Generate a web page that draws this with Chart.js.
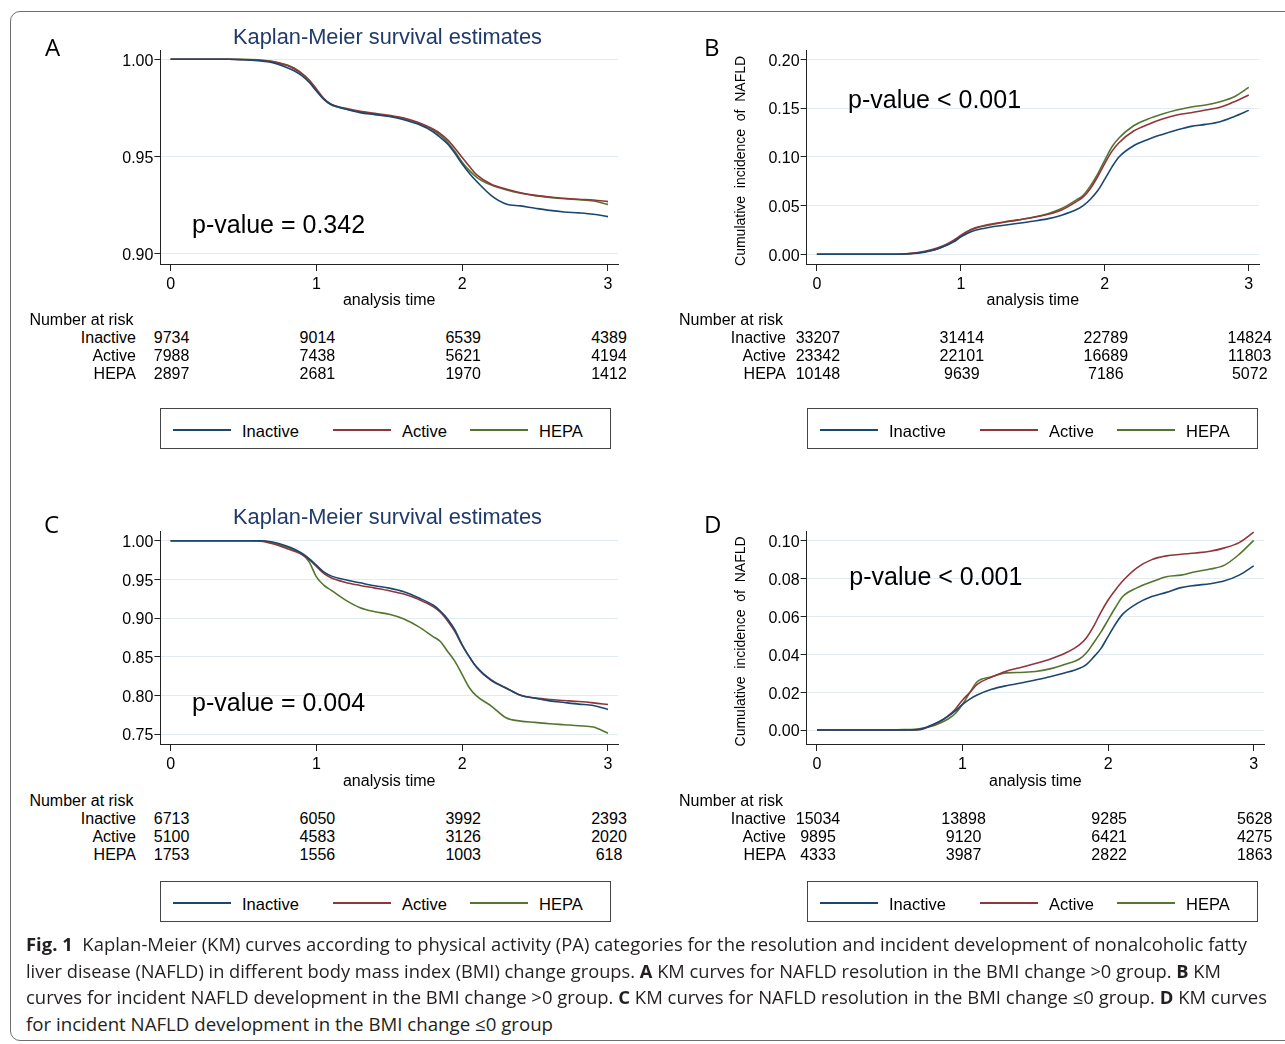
<!DOCTYPE html>
<html>
<head>
<meta charset="utf-8">
<script src="https://cdn.jsdelivr.net/npm/chart.js@4.4.1/dist/chart.umd.min.js"></script>
<style>
  html, body { margin: 0; padding: 0; background: #fff; }
  body { width: 1285px; height: 1044px; position: relative; overflow: hidden;
         font-family: "Liberation Sans", Arial, sans-serif; color: #000; }
  .frame { position: absolute; left: 10px; top: 11px; width: 1330px; height: 1030px;
           border: 1.5px solid #6e6e6e; border-radius: 10px; box-sizing: border-box; }
  .panel { position: absolute; width: 645px; height: 480px; }
  .panel canvas { position: absolute; left: 0; top: 0; }
  .abs { position: absolute; white-space: nowrap; }
  .letter { font: 24px/24px "Open Sans", sans-serif; }
  .kmtitle { font-size: 21.8px; line-height: 21.8px; color: #1f3a6b; text-align: center; }
  .pval { font-size: 25px; line-height: 25px; }
  .risk { font-size: 16px; line-height: 16px; }
  .legend { border: 1px solid #444; box-sizing: border-box; }
  .legline { position: absolute; height: 1.6px; }
  .legtext { font-size: 16.5px; line-height: 16.5px; }
  .cap { font: 18px/18px "Open Sans", sans-serif; color: #231f20; transform-origin: 0 0; }
</style>
</head>
<body>
<div class="frame"></div>
<div id="root"></div>
<div id="caption"></div>

<script>
// time points (years)
const times = [0, 0.4, 0.5, 0.6, 0.7, 0.8, 0.85, 0.9, 0.95, 1.0, 1.05, 1.1, 1.2, 1.3, 1.4, 1.5, 1.6, 1.7,
               1.8, 1.85, 1.9, 1.95, 2.0, 2.05, 2.1, 2.2, 2.3, 2.4, 2.5, 2.6, 2.7, 2.8, 2.9, 3.0];

const groups = ['Inactive', 'Active', 'HEPA'];
const groupColors = ['#1a476f', '#90353b', '#55752f'];

// A - NAFLD resolution, BMI change > 0 (survival)
const aInactive = [1.0, 1.0, 0.9998, 0.9993, 0.9983, 0.9957, 0.9940, 0.9916, 0.9882, 0.9837,
  0.9795, 0.9769, 0.9745, 0.9726, 0.9716, 0.9706, 0.9690, 0.9666, 0.9628, 0.9599,
  0.9565, 0.9517, 0.9462, 0.9414, 0.9372, 0.9300, 0.9257, 0.9247, 0.9235, 0.9224,
  0.9216, 0.9211, 0.9204, 0.9192];
const aActive = [1.0, 1.0, 0.9998, 0.9995, 0.9988, 0.9968, 0.9950, 0.9926, 0.9894, 0.9848,
  0.9800, 0.9769, 0.9748, 0.9733, 0.9723, 0.9712, 0.9699, 0.9676, 0.9642, 0.9618,
  0.9586, 0.9543, 0.9495, 0.9449, 0.9406, 0.9358, 0.9334, 0.9315, 0.9301, 0.9293,
  0.9286, 0.9281, 0.9277, 0.9269];
const aHepa = [1.0, 1.0, 1.0, 0.9997, 0.9988, 0.9971, 0.9954, 0.9928, 0.9892, 0.9842,
  0.9795, 0.9766, 0.9745, 0.9730, 0.9719, 0.9709, 0.9695, 0.9671, 0.9637, 0.9611,
  0.9574, 0.9526, 0.9471, 0.9428, 0.9394, 0.9354, 0.9330, 0.9312, 0.9300, 0.9291,
  0.9284, 0.9279, 0.9272, 0.9255];

// B - incident NAFLD, BMI change > 0 (cumulative incidence)
const bInactive = [0, 0, 0, 0.0003, 0.0010, 0.0038, 0.0062, 0.0092, 0.0127, 0.0178,
  0.0219, 0.0247, 0.0277, 0.0298, 0.0318, 0.0339, 0.0363, 0.0401, 0.0456, 0.0500,
  0.0565, 0.0651, 0.0771, 0.0897, 0.1000, 0.1113, 0.1178, 0.1229, 0.1274, 0.1312,
  0.1332, 0.1360, 0.1414, 0.1476];
const bActive = [0, 0, 0, 0.0003, 0.0017, 0.0048, 0.0072, 0.0103, 0.0144, 0.0195,
  0.0240, 0.0271, 0.0308, 0.0332, 0.0353, 0.0377, 0.0408, 0.0455, 0.0538, 0.0589,
  0.0675, 0.0795, 0.0932, 0.1058, 0.1147, 0.1264, 0.1332, 0.1387, 0.1428, 0.1452,
  0.1479, 0.1507, 0.1565, 0.1634];
const bHepa = [0, 0, 0, 0.0003, 0.0014, 0.0041, 0.0062, 0.0092, 0.0134, 0.0188,
  0.0233, 0.0267, 0.0301, 0.0329, 0.0353, 0.0380, 0.0414, 0.0469, 0.0555, 0.0606,
  0.0702, 0.0822, 0.0966, 0.1103, 0.1195, 0.1318, 0.1387, 0.1438, 0.1479, 0.1510,
  0.1531, 0.1565, 0.1616, 0.1712];

// C - NAFLD resolution, BMI change <= 0
const cInactive = [1.0, 1.0, 1.0, 1.0, 0.9983, 0.9927, 0.9889, 0.9837, 0.9768, 0.9683,
  0.9597, 0.9545, 0.9494, 0.9455, 0.9417, 0.9387, 0.9340, 0.9262, 0.9168, 0.9091,
  0.8988, 0.8846, 0.8654, 0.8495, 0.8362, 0.8190, 0.8096, 0.8002, 0.7963, 0.7929,
  0.7907, 0.7886, 0.7869, 0.7817];
const cActive = [1.0, 1.0, 1.0, 0.9996, 0.9961, 0.9897, 0.9863, 0.9820, 0.9755, 0.9666,
  0.9576, 0.9520, 0.9460, 0.9421, 0.9387, 0.9352, 0.9310, 0.9241, 0.9147, 0.9074,
  0.8962, 0.8825, 0.8645, 0.8495, 0.8362, 0.8199, 0.8096, 0.8002, 0.7967, 0.7946,
  0.7933, 0.7920, 0.7903, 0.7882];
const cHepa = [1.0, 1.0, 1.0, 1.0, 0.9974, 0.9914, 0.9876, 0.9828, 0.9726, 0.9533,
  0.9426, 0.9361, 0.9232, 0.9134, 0.9082, 0.9048, 0.8988, 0.8889, 0.8760, 0.8696,
  0.8568, 0.8439, 0.8268, 0.8096, 0.7989, 0.7861, 0.7710, 0.7667, 0.7650, 0.7633,
  0.7620, 0.7607, 0.7590, 0.7509];

// D - incident NAFLD, BMI change <= 0
const dInactive = [0, 0, 0, 0, 0.0003, 0.0031, 0.0049, 0.0072, 0.0101, 0.0135,
  0.0163, 0.0185, 0.0215, 0.0234, 0.0248, 0.0264, 0.0281, 0.0301, 0.0325, 0.0346,
  0.0385, 0.0430, 0.0495, 0.0559, 0.0612, 0.0669, 0.0705, 0.0727, 0.0752, 0.0764,
  0.0773, 0.0788, 0.0818, 0.0867];
const dActive = [0, 0, 0, 0, 0.0002, 0.0028, 0.0047, 0.0075, 0.0110, 0.0159,
  0.0198, 0.0241, 0.0280, 0.0311, 0.0330, 0.0351, 0.0374, 0.0404, 0.0448, 0.0486,
  0.0547, 0.0622, 0.0687, 0.0740, 0.0787, 0.0858, 0.0900, 0.0920, 0.0928, 0.0935,
  0.0944, 0.0962, 0.0990, 0.1045];
const dHepa = [0, 0, 0, 0.0002, 0.0007, 0.0023, 0.0038, 0.0058, 0.0087, 0.0136,
  0.0198, 0.0255, 0.0281, 0.0302, 0.0304, 0.0309, 0.0323, 0.0346, 0.0374, 0.0407,
  0.0460, 0.0517, 0.0582, 0.0647, 0.0705, 0.0752, 0.0783, 0.0810, 0.0818, 0.0836,
  0.0850, 0.0871, 0.0928, 0.1002];

// axis ticks
const xTicks = [0, 1, 2, 3];
const yTicksA = [0.90, 0.95, 1.00];
const yTicksB = [0.00, 0.05, 0.10, 0.15, 0.20];
const yTicksC = [0.75, 0.80, 0.85, 0.90, 0.95, 1.00];
const yTicksD = [0.00, 0.02, 0.04, 0.06, 0.08, 0.10];

// number at risk, at t = 0, 1, 2, 3
const riskTimes = [0, 1, 2, 3];
const riskA = [[9734, 9014, 6539, 4389], [7988, 7438, 5621, 4194], [2897, 2681, 1970, 1412]];
const riskB = [[33207, 31414, 22789, 14824], [23342, 22101, 16689, 11803], [10148, 9639, 7186, 5072]];
const riskC = [[6713, 6050, 3992, 2393], [5100, 4583, 3126, 2020], [1753, 1556, 1003, 618]];
const riskD = [[15034, 13898, 9285, 5628], [9895, 9120, 6421, 4275], [4333, 3987, 2822, 1863]];

const pValues = ['p-value = 0.342', 'p-value < 0.001', 'p-value = 0.004', 'p-value < 0.001'];

const panels = [
  { letter: 'A', left: 0, top: 0, series: [aInactive, aActive, aHepa], yTicks: yTicksA,
    xMin: -0.07, xMax: 3.0686, yMin: 0.89486, yMax: 1.00478, yWidth: 160.4, padTop: 50, padRight: 27,
    titleBottom: 1.4, title: true, yTitle: '', pval: pValues[0], pLeft: 192, pBase: 233.3, risk: riskA,
    letterX: 45, tableLeft: 29.4, labelRight: 136, tableBase: 326, legendLeft: 160, legendTop: 408 },
  { letter: 'B', left: 640, top: 0, series: [bInactive, bActive, bHepa], yTicks: yTicksB,
    xMin: -0.0715, xMax: 3.071, yMin: -0.00995, yMax: 0.2095, yWidth: 166.6, padTop: 50, padRight: 26,
    titleBottom: 1.4, title: false, yTitle: 'Cumulative  incidence  of  NAFLD  ', pval: pValues[1], pLeft: 208, pBase: 107.7, risk: riskB,
    letterX: 64, tableLeft: 39, labelRight: 146, tableBase: 326, legendLeft: 167, legendTop: 408 },
  { letter: 'C', left: 0, top: 480, series: [cInactive, cActive, cHepa], yTicks: yTicksC,
    xMin: -0.07, xMax: 3.0686, yMin: 0.73709, yMax: 1.01253, yWidth: 160.4, padTop: 51, padRight: 27,
    titleBottom: 0.4, title: true, yTitle: '', pval: pValues[2], pLeft: 192, pBase: 230.7, risk: riskC,
    letterX: 44, tableLeft: 29.4, labelRight: 136, tableBase: 327, legendLeft: 160, legendTop: 401 },
  { letter: 'D', left: 640, top: 480, series: [dInactive, dActive, dHepa], yTicks: yTicksD,
    xMin: -0.0714, xMax: 3.0707, yMin: -0.00738, yMax: 0.10512, yWidth: 166.6, padTop: 51, padRight: 21,
    titleBottom: 0.4, title: false, yTitle: 'Cumulative  incidence  of  NAFLD  ', pval: pValues[3], pLeft: 209.3, pBase: 105, risk: riskD,
    letterX: 64, tableLeft: 39, labelRight: 146, tableBase: 327, legendLeft: 167, legendTop: 401 }
];

const FONT = '"Liberation Sans", Arial, sans-serif';
// baseline offset of Liberation Sans when line-height equals font size
const base = fs => fs * 0.8465;

function addText(parent, cls, text, left, top, extra) {
  const el = document.createElement('div');
  el.className = 'abs ' + cls;
  el.textContent = text;
  el.style.left = left + 'px';
  el.style.top = top + 'px';
  if (extra) Object.assign(el.style, extra);
  parent.appendChild(el);
  return el;
}

function buildPanel(p) {
  const div = document.createElement('div');
  div.className = 'panel';
  div.style.left = p.left + 'px';
  div.style.top = p.top + 'px';
  document.getElementById('root').appendChild(div);

  const canvas = document.createElement('canvas');
  canvas.width = 645;
  canvas.height = 312;
  div.appendChild(canvas);

  const datasets = p.series.map((vals, i) => ({
    label: groups[i],
    data: times.map((t, j) => ({ x: t, y: vals[j] })),
    borderColor: groupColors[i],
    borderWidth: 1.6,
    pointRadius: 0,
    cubicInterpolationMode: 'monotone',
    fill: false
  }));

  const chart = new Chart(canvas, {
    type: 'line',
    data: { datasets },
    options: {
      responsive: false,
      animation: false,
      devicePixelRatio: 1,
      layout: { padding: { top: p.padTop, right: p.padRight, left: 0, bottom: 0 } },
      plugins: { legend: { display: false }, tooltip: { enabled: false } },
      scales: {
        x: {
          type: 'linear',
          min: p.xMin, max: p.xMax,
          afterBuildTicks: s => { s.ticks = xTicks.map(v => ({ value: v })); },
          afterFit: s => { s.height = 48; },
          grid: { drawOnChartArea: false, drawTicks: true, tickLength: 7, color: '#222' },
          border: { display: true, color: '#222', width: 1 },
          ticks: { color: '#000', font: { family: FONT, size: 16 }, padding: 4, maxRotation: 0,
                   callback: v => String(v) },
          title: { display: true, text: 'analysis time', color: '#000',
                   font: { family: FONT, size: 16 }, padding: { top: 0, bottom: p.titleBottom } }
        },
        y: {
          type: 'linear',
          min: p.yMin, max: p.yMax,
          afterBuildTicks: s => { s.ticks = p.yTicks.map(v => ({ value: v })); },
          afterFit: s => { s.width = p.yWidth; },
          grid: { color: '#e2ecf0', tickColor: '#222', tickLength: 6, drawTicks: true },
          border: { display: true, color: '#222', width: 1 },
          ticks: { color: '#000', font: { family: FONT, size: 16 }, padding: 1, labelOffset: 2,
                   callback: v => v.toFixed(2) },
          title: { display: p.yTitle !== '', text: p.yTitle, color: '#000',
                   font: { family: FONT, size: 14 }, padding: { top: 92.4, bottom: 0 } }
        }
      }
    }
  });

  // panel letter
  addText(div, 'letter', p.letter, p.letterX, p.top ? 31.5 : 35);
  // title
  if (p.title) {
    addText(div, 'kmtitle', 'Kaplan-Meier survival estimates', 187.5, 44.3 - base(21.8), { width: '400px' });
  }
  // p-value
  addText(div, 'pval', p.pval, p.pLeft, p.pBase - base(25));

  // number at risk table, columns placed on the chart's own x scale
  const xs = chart.scales.x;
  addText(div, 'risk', 'Number at risk', p.tableLeft, p.tableBase - base(16));
  groups.forEach((g, i) => {
    const b = p.tableBase + 18 * (i + 1) - base(16);
    addText(div, 'risk', g, p.labelRight - 200, b, { width: '200px', textAlign: 'right' });
    riskTimes.forEach((t, j) => {
      const cx = xs.getPixelForValue(t) + 1;
      addText(div, 'risk', String(p.risk[i][j]), cx - 50, b, { width: '100px', textAlign: 'center' });
    });
  });

  // legend box
  const leg = document.createElement('div');
  leg.className = 'abs legend';
  Object.assign(leg.style, { left: p.legendLeft + 'px', top: p.legendTop + 'px', width: '451px', height: '41px' });
  div.appendChild(leg);
  const lineX = [12, 172, 309];
  const textX = [81, 241, 378];
  groups.forEach((g, i) => {
    const ln = document.createElement('div');
    ln.className = 'legline';
    Object.assign(ln.style, { left: lineX[i] + 'px', top: '20px', width: '58px', background: groupColors[i] });
    leg.appendChild(ln);
    addText(leg, 'legtext', g, textX[i], 27.5 - base(16.5));
  });
}

panels.forEach(buildPanel);

// caption, each line stretched to its measured width in the reference
const capLines = [
  '<b>Fig. 1</b>&nbsp; Kaplan-Meier (KM) curves according to physical activity (PA) categories for the resolution and incident development of nonalcoholic fatty',
  'liver disease (NAFLD) in different body mass index (BMI) change groups. <b>A</b> KM curves for NAFLD resolution in the BMI change &gt;0 group. <b>B</b> KM',
  'curves for incident NAFLD development in the BMI change &gt;0 group. <b>C</b> KM curves for NAFLD resolution in the BMI change ≤0 group. <b>D</b> KM curves',
  'for incident NAFLD development in the BMI change ≤0 group'
];
const capWidths = [1221, 1195, 1241, 527];
const capBase = [951, 978, 1004, 1031];
const cap = document.getElementById('caption');
capLines.forEach((html, i) => {
  const el = document.createElement('div');
  el.className = 'abs cap';
  el.innerHTML = html;
  el.style.left = '26px';
  el.style.top = (capBase[i] - 18 * 0.888) + 'px';
  cap.appendChild(el);
  const w = el.getBoundingClientRect().width;
  el.style.transform = 'scaleX(' + (capWidths[i] / w) + ')';
});
</script>
</body>
</html>
